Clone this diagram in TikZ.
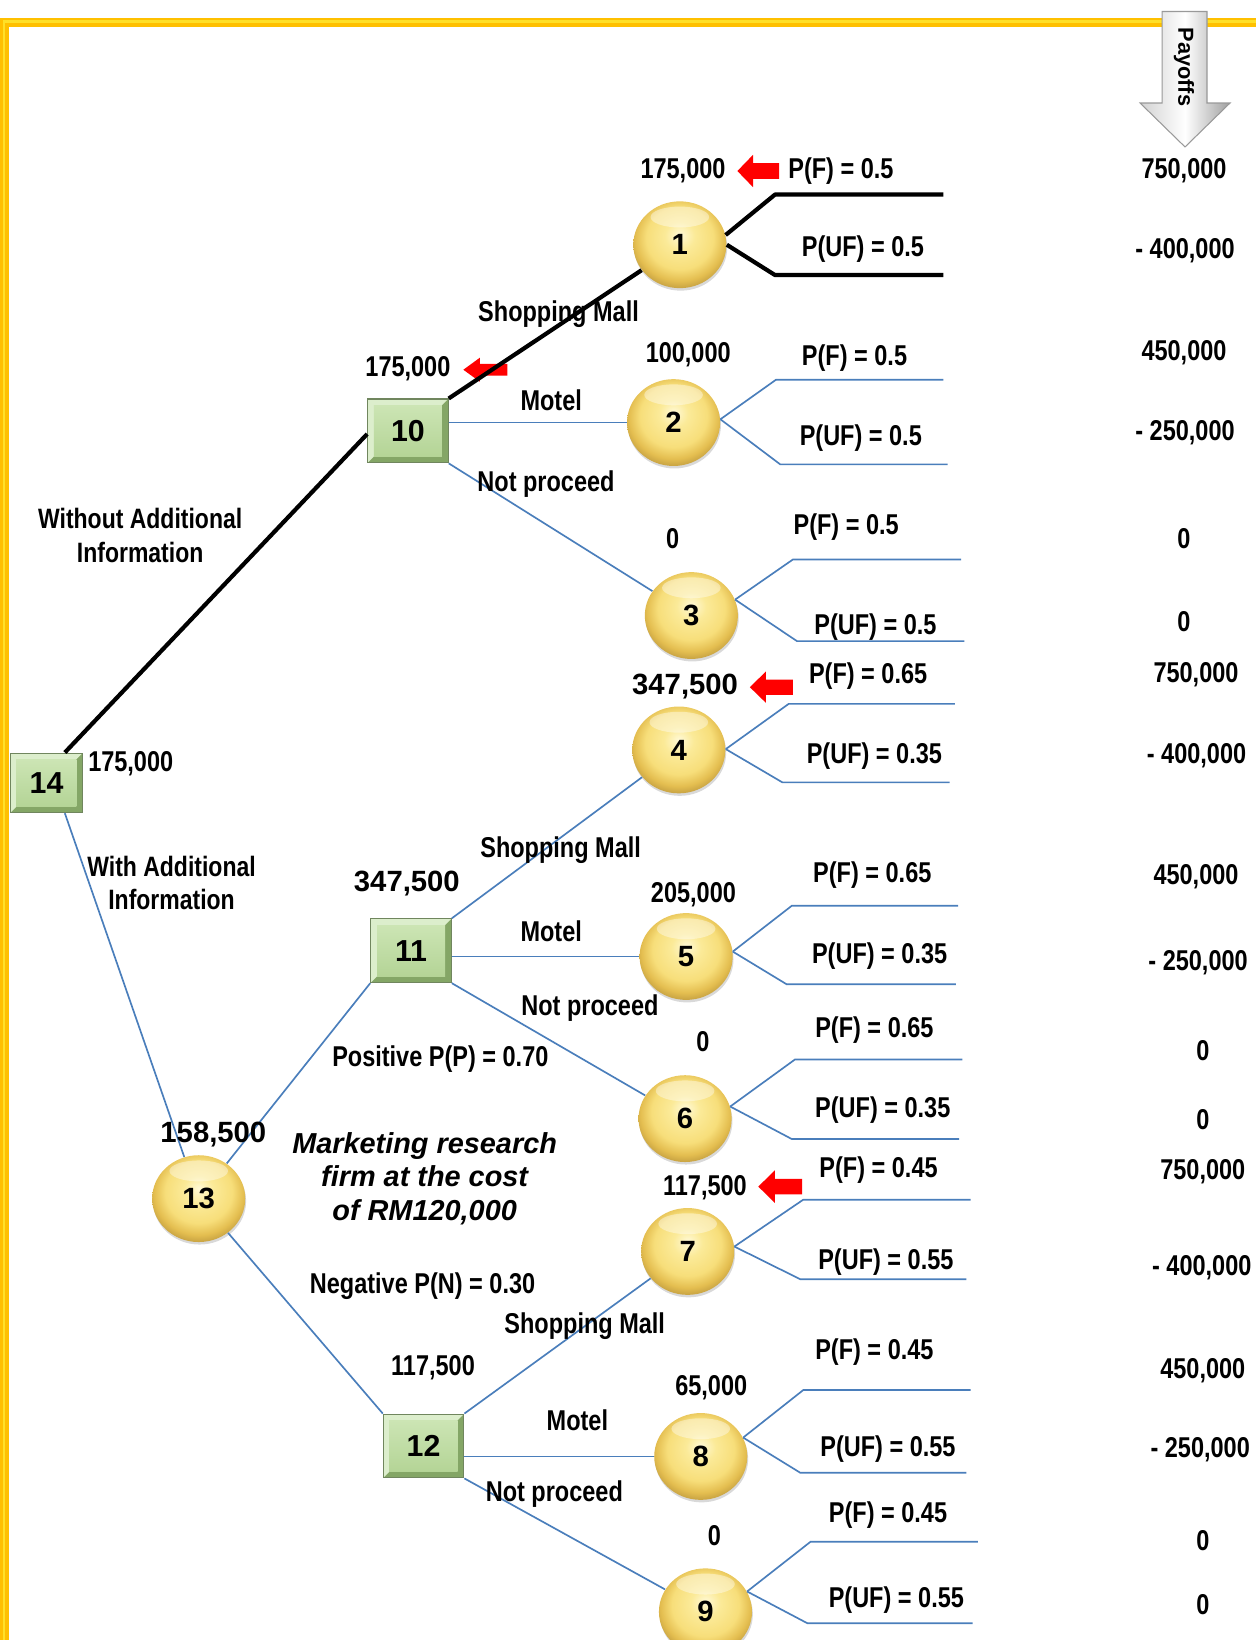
\documentclass[tikz,border=0pt]{standalone}
\usepackage{fontspec}
\setmainfont{Liberation Sans}
\newfontfamily\narrowfont{Liberation Sans}[FakeStretch=0.82]
\usepackage{graphicx}
\usetikzlibrary{calc,shapes.geometric,shadows}

\definecolor{framegold}{RGB}{255,192,0}
\definecolor{framelight}{RGB}{255,224,40}
\definecolor{branchblue}{RGB}{74,126,187}
\definecolor{boxlight}{RGB}{220,238,204}
\definecolor{boxtop}{RGB}{204,229,180}
\definecolor{boxbottom}{RGB}{180,212,150}
\definecolor{boxdark}{RGB}{132,166,102}
\definecolor{boxline}{RGB}{112,134,94}
\definecolor{goldA}{RGB}{255,249,214}
\definecolor{goldB}{RGB}{251,234,152}
\definecolor{goldC}{RGB}{247,222,122}
\definecolor{goldD}{RGB}{228,190,80}
\definecolor{goldE}{RGB}{182,146,58}

\pgfdeclareradialshading{goldball}{\pgfpoint{0bp}{6bp}}{%
  color(0bp)=(goldA); color(8bp)=(goldB); color(18bp)=(goldC);
  color(24bp)=(goldD); color(30bp)=(goldE); color(50bp)=(goldE)}

\tikzset{
  pics/redarrow/.style={code={
    \fill[red] (-20,0) -- (-5,-15.5) -- (-5,-7.5) -- (20,-7.5) -- (20,7.5)
      -- (-5,7.5) -- (-5,15.5) -- cycle;}},
}

\begin{document}
\begin{tikzpicture}[x=0.5pt, y=-0.5pt,
  bestline/.style={line width=2pt, black},
  altline/.style={line width=0.8pt, branchblue},
  chance/.style={ellipse, minimum width=44.5pt, minimum height=41.5pt,
    inner sep=0pt, shade, shading=goldball,
    drop shadow={shadow xshift=0.4pt, shadow yshift=-1.2pt, opacity=0.3},
    font=\fontsize{14}{16}\selectfont\bfseries,
    path picture={\fill[white, opacity=0.4]
      ($(path picture bounding box.north)+(0,-7.5pt)$)
      ellipse [x radius=14pt, y radius=5pt];}},
  decision/.style={rectangle, minimum width=38.5pt, minimum height=30.5pt,
    inner sep=0pt, fill=boxdark, draw=boxline, line width=0.5pt,
    font=\fontsize{14.5}{16}\selectfont\bfseries,
    path picture={
      \coordinate (pnw) at (path picture bounding box.north west);
      \coordinate (pne) at (path picture bounding box.north east);
      \coordinate (psw) at (path picture bounding box.south west);
      \fill[boxlight] (psw) -- (pnw) -- (pne) -- ($(pne)+(-3pt,-3pt)$)
        -- ($(pnw)+(3pt,-3pt)$) -- ($(psw)+(3pt,3pt)$) -- cycle;
      \shade[top color=boxtop, bottom color=boxbottom]
        ($(psw)+(3pt,3pt)$) rectangle ($(pne)+(-3pt,-3pt)$);}},
  lbl/.style={inner sep=0pt, font=\narrowfont\fontsize{13.7}{16}\selectfont\bfseries,
    text height=9.8pt, text depth=0pt},
  bignum/.style={inner sep=0pt, font=\fontsize{14}{16}\selectfont\bfseries,
    text height=10pt, text depth=0pt},
  payoff/.style={inner sep=0pt, font=\narrowfont\fontsize{13.7}{16}\selectfont\bfseries,
    text height=9.8pt, text depth=0pt},
  twoline/.style={inner sep=0pt, align=center,
    font=\narrowfont\fontsize{13.4}{16}\selectfont\bfseries},
  notetext/.style={inner sep=0pt, align=center,
    font=\fontsize{13.8}{16}\selectfont\bfseries\itshape},
]
\useasboundingbox (0,0) rectangle (1200,1568);

% gold frame
\draw[framegold, line width=4.2pt] (4,1580) -- (4,21.5) -- (1210,21.5);
\draw[framelight, line width=1.2pt] (4,1580) -- (4,20.5) -- (1210,20.5);

% silver payoff arrow
\shade[left color=gray!35, right color=gray!75, middle color=white,
  draw=gray!80, line width=0.5pt]
  (1111,11) -- (1154,11) -- (1154,98.5) -- (1176,98.5) -- (1133,140.5)
  -- (1090,98.5) -- (1111,98.5) -- cycle;
\node[rotate=-90, inner sep=0pt, font=\fontsize{10.4}{12}\selectfont\bfseries]
  (payhead) at (1132,64) {Payoffs};

% red pointers to the chosen values
\pic at (725,163.5) {redarrow};
\pic[xscale=1.05, yscale=0.74] at (464,353.5) {redarrow};
\pic[xscale=1.03, yscale=0.97] at (737.5,657) {redarrow};
\pic[xscale=1.05] at (746,1134.5) {redarrow};

% decision and chance nodes
\node[decision, minimum width=34.5pt, minimum height=28.5pt] (d14) at (44.5,748.5) {14};
\node[decision] (d10) at (390,412) {10};
\node[decision] (d11) at (393,909) {11};
\node[decision] (d12) at (405,1382.5) {12};
\node[chance] (c1) at (650,234) {1};
\node[chance] (c2) at (644,404) {2};
\node[chance] (c3) at (661,588.5) {3};
\node[chance] (c4) at (649,717) {4};
\node[chance] (c5) at (656,914.5) {5};
\node[chance] (c6) at (655,1069.5) {6};
\node[chance] (c7) at (657.5,1196.5) {7};
\node[chance] (c8) at (670,1392.5) {8};
\node[chance] (c9) at (674.5,1541) {9};
\node[chance] (c13) at (190,1146) {13};

% bend and end points of the outcome branches
\coordinate (b1u) at (741,186);  \coordinate (e1u) at (902,186);
\coordinate (b1l) at (741,263);  \coordinate (e1l) at (902,263);
\coordinate (b2u) at (742,363);  \coordinate (e2u) at (902,363);
\coordinate (b2l) at (746,444);  \coordinate (e2l) at (906,444);
\coordinate (b3u) at (758,535);  \coordinate (e3u) at (919,535);
\coordinate (b3l) at (762,613);  \coordinate (e3l) at (922,613);
\coordinate (b4u) at (754,673);  \coordinate (e4u) at (913,673);
\coordinate (b4l) at (748,748);  \coordinate (e4l) at (908,748);
\coordinate (b5u) at (757,866);  \coordinate (e5u) at (916,866);
\coordinate (b5l) at (752,941);  \coordinate (e5l) at (914,941);
\coordinate (b6u) at (760,1013); \coordinate (e6u) at (920,1013);
\coordinate (b6l) at (757,1089); \coordinate (e6l) at (917,1089);
\coordinate (b7u) at (768,1147); \coordinate (e7u) at (928,1147);
\coordinate (b7l) at (765,1223); \coordinate (e7l) at (924,1223);
\coordinate (b8u) at (768,1329); \coordinate (e8u) at (928,1329);
\coordinate (b8l) at (765,1408); \coordinate (e8l) at (924,1408);
\coordinate (b9u) at (775,1474); \coordinate (e9u) at (935,1474);
\coordinate (b9l) at (772,1552); \coordinate (e9l) at (930,1552);

% optimal path
\draw[bestline] ($(d14.north)+(17.5,0)$) -- ($(d10.west)+(0,3)$);
\draw[bestline] (d10.north east) -- (c1);
\draw[bestline, line join=round] (c1.12) -- (b1u) -- (e1u);
\draw[bestline, line join=round] (c1.east) -- (b1l) -- (e1l);

% remaining branches
\draw[altline] (d10.east |- c2.west) -- (c2.west);
\draw[altline] (d10.south east) -- (c3);
\draw[altline] ($(d14.south)+(17.5,0)$) -- (c13);
\draw[altline] (c13) -- (d11.south west);
\draw[altline] (c13) -- (d12.north west);
\draw[altline] (d11.north east) -- (c4);
\draw[altline] (d11.east |- c5.west) -- (c5.west);
\draw[altline] (d11.south east) -- (c6);
\draw[altline] (d12.north east) -- (c7);
\draw[altline] (d12.east |- c8.west) -- (c8.west);
\draw[altline] (d12.south east) -- (c9);
\foreach \n/\a in {2/4,3/20,4/1,5/6,6/15,7/6,8/24,9/26}{
  \draw[altline] (c\n.\a) -- (b\n u) -- (e\n u);
  \draw[altline] (c\n.\a) -- (b\n l) -- (e\n l);
}

% values and probabilities
\node[lbl] (v1) at (653,161) {175,000};
\node[lbl] (p1f) at (804,161) {P(F) = 0.5};
\node[lbl] (p1u) at (825,235) {P(UF) = 0.5};
\node[lbl] (s10) at (534,298) {Shopping Mall};
\node[lbl] (v10) at (390,350) {175,000};
\node[lbl] (v2) at (658,337) {100,000};
\node[lbl] (p2f) at (817,340) {P(F) = 0.5};
\node[lbl] (m10) at (527,383) {Motel};
\node[lbl] (p2u) at (823,416) {P(UF) = 0.5};
\node[lbl] (n10) at (522,460) {Not proceed};
\node[lbl] (v3) at (643,515) {0};
\node[lbl] (p3f) at (809,501) {P(F) = 0.5};
\node[lbl] (p3u) at (837,597) {P(UF) = 0.5};
\node[twoline] (wo) at (134,512) {Without Additional\\Information};
\node[bignum] (v4) at (655,654) {347,500};
\node[lbl] (p4f) at (830,644) {P(F) = 0.65};
\node[lbl] (p4u) at (836,720) {P(UF) = 0.35};
\node[lbl] (v14) at (125,728) {175,000};
\node[lbl] (s11) at (536,810) {Shopping Mall};
\node[twoline] (wi) at (164,844) {With Additional\\Information};
\node[bignum] (v11) at (389,842) {347,500};
\node[lbl] (v5) at (663,853) {205,000};
\node[lbl] (p5f) at (834,834) {P(F) = 0.65};
\node[lbl] (m11) at (527,890) {Motel};
\node[lbl] (p5u) at (841,911) {P(UF) = 0.35};
\node[lbl] (n11) at (564,961) {Not proceed};
\node[lbl] (v6) at (672,996) {0};
\node[lbl] (p6f) at (836,982) {P(F) = 0.65};
\node[lbl] (pos) at (421,1010) {Positive P(P) = 0.70};
\node[lbl] (p6u) at (844,1059) {P(UF) = 0.35};
\node[bignum] (v13) at (204,1082) {158,500};
\node[notetext] (mr) at (406,1127) {Marketing research\\firm at the cost\\of RM120,000};
\node[lbl] (v7) at (674,1133) {117,500};
\node[lbl] (p7f) at (840,1116) {P(F) = 0.45};
\node[lbl] (p7u) at (847,1204) {P(UF) = 0.55};
\node[lbl] (neg) at (404,1227) {Negative P(N) = 0.30};
\node[lbl] (s12) at (559,1265) {Shopping Mall};
\node[lbl] (v12) at (414,1305) {117,500};
\node[lbl] (p8f) at (836,1290) {P(F) = 0.45};
\node[lbl] (v8) at (680,1324) {65,000};
\node[lbl] (m12) at (552,1358) {Motel};
\node[lbl] (p8u) at (849,1383) {P(UF) = 0.55};
\node[lbl] (n12) at (530,1426) {Not proceed};
\node[lbl] (p9f) at (849,1446) {P(F) = 0.45};
\node[lbl] (v9) at (683,1468) {0};
\node[lbl] (p9u) at (857,1527) {P(UF) = 0.55};

% payoff column
\node[payoff] (r1)  at (1132,161)  {750,000};
\node[payoff] (r2)  at (1133,237)  {- 400,000};
\node[payoff] (r3)  at (1132,335)  {450,000};
\node[payoff] (r4)  at (1133,411)  {- 250,000};
\node[payoff] (r5)  at (1132,515)  {0};
\node[payoff] (r6)  at (1132,594)  {0};
\node[payoff] (r7)  at (1143.5,643) {750,000};
\node[payoff] (r8)  at (1144,720)  {- 400,000};
\node[payoff] (r9)  at (1143.5,836) {450,000};
\node[payoff] (r10) at (1145.5,918) {- 250,000};
\node[payoff] (r11) at (1150,1004) {0};
\node[payoff] (r12) at (1150,1070) {0};
\node[payoff] (r13) at (1150,1118) {750,000};
\node[payoff] (r14) at (1149,1210) {- 400,000};
\node[payoff] (r15) at (1150,1308) {450,000};
\node[payoff] (r16) at (1147.5,1384) {- 250,000};
\node[payoff] (r17) at (1150,1473) {0};
\node[payoff] (r18) at (1150,1534) {0};
\end{tikzpicture}
\end{document}
